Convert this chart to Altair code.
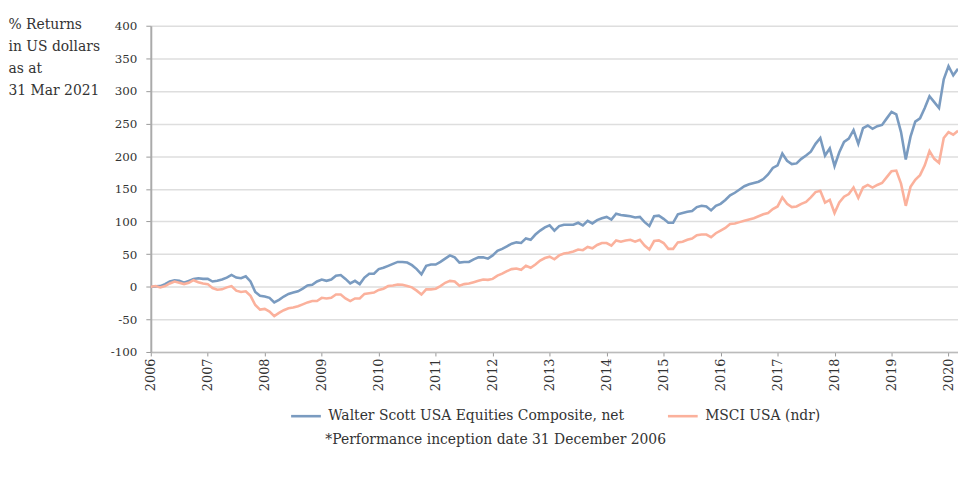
import altair as alt
import pandas as pd

months = list(range(171))

walter = [
    0, 0.5, 1, 4, 8, 10, 9, 6, 9, 12, 13, 12,
    12, 8, 9, 11, 14, 18, 14, 13, 16, 8, -8, -14,
    -15, -17, -24, -20, -15, -11, -9, -7, -3, 2, 3, 8,
    11, 9, 11, 17, 18, 12, 5, 9, 4, 14, 20, 20,
    27, 29, 32, 35, 38, 38, 37, 33, 27, 19, 32, 34,
    34, 38, 43, 48, 45, 37, 38, 38, 42, 45, 45, 43,
    48, 55, 58, 62, 66, 68, 67, 74, 72, 80, 86, 91,
    94, 86, 93, 95, 95, 95, 98, 94, 101, 97, 102, 105,
    107, 103, 112, 110, 109, 108, 106, 107, 99, 93, 108, 109,
    104, 98, 98, 111, 113, 115, 116, 122, 124, 123, 117, 124,
    127, 133, 140, 144, 149, 154, 157, 159, 161, 165, 172, 182,
    186, 204, 193, 188, 189, 196, 201, 207, 219, 228, 201, 212,
    185, 206, 222, 227, 240, 219, 243, 247, 242, 246, 248, 258,
    268, 264, 237, 195, 230, 253, 258, 274, 292, 283, 274, 318,
    338, 324, 334,
]

msci = [
    0, 1, -1, 1, 5, 8, 6, 4, 6, 10, 7, 5,
    4, -2, -4.5, -4, -1, 1, -6, -8, -7, -14, -28, -35,
    -34, -38, -45, -40, -36, -33, -32, -30, -27, -24, -22, -22,
    -17, -18, -17, -12, -12, -18, -22, -18, -18, -11, -10, -9,
    -5, -3, 1, 2, 3.5, 3, 1, -1, -6, -12, -4, -4,
    -3, 1, 6, 9, 8, 1.5, 4, 5, 7, 9, 11, 10.5,
    12, 17, 20, 24, 27, 28, 26, 32, 29, 34, 40, 44,
    46, 42, 48, 51, 52, 54, 57, 56, 61, 59, 64, 67,
    67, 63, 71, 69, 71, 72, 69, 72, 63, 57, 70, 71,
    67, 58, 58, 68, 69, 72, 74, 79, 80, 80, 76, 82,
    86, 90, 96, 97, 99, 101, 103, 105, 108, 111, 113, 119,
    123, 137, 127, 122, 123, 127, 130, 137, 145, 147, 129, 133,
    113, 129, 138, 142, 152, 136, 152, 156, 152, 156, 159, 168,
    177, 178, 158, 124, 153, 164, 171, 186, 208, 196, 190, 228,
    237, 233, 239,
]

series_names = ["Walter Scott USA Equities Composite, net", "MSCI USA (ndr)"]
colors = ["#7A9BC0", "#FBB19C"]
years = list(range(2006, 2021))
y_ticks = list(range(-100, 401, 50))
title_lines = ["% Returns", "in US dollars", "as at", "31 Mar 2021"]
footnote = ["*Performance inception date 31 December 2006"]

df = pd.DataFrame({
    "m": months * 2,
    "v": walter + msci,
    "s": [series_names[0]] * len(walter) + [series_names[1]] * len(msci),
})
foot_df = pd.DataFrame({"t": footnote})

FONT = "DejaVu Serif"
TXT = "#333333"

lines = alt.Chart(df).mark_line(strokeWidth=2.6).encode(
    x=alt.X(
        "m:Q",
        scale=alt.Scale(domain=[0, 170], nice=False, zero=False),
        axis=alt.Axis(
            values=[(y - 2006) * 12 for y in years],
            labelExpr="'' + (2006 + datum.value / 12)",
            labelAngle=270,
            grid=False,
            title=None,
            labelFont=FONT,
            labelFontSize=13,
            labelColor=TXT,
            labelPadding=2,
            tickSize=4,
            tickColor="#999999",
            domainColor="#bbbbbb",
            domainWidth=1.5,
        ),
    ),
    y=alt.Y(
        "v:Q",
        scale=alt.Scale(domain=[-100, 400], nice=False),
        axis=alt.Axis(
            values=y_ticks,
            labelExpr="'' + datum.value",
            title=title_lines,
            titleAngle=0,
            titleAlign="left",
            titleBaseline="alphabetic",
            titleX=-144,
            titleY=3,
            titleFont=FONT,
            titleFontSize=14,
            titleFontWeight="normal",
            titleColor=TXT,
            titleLineHeight=22,
            labelFont=FONT,
            labelFontSize=12,
            labelColor=TXT,
            labelPadding=9,
            tickSize=5,
            tickColor="#999999",
            domainColor="#aaaaaa",
            domainWidth=2,
            gridColor="#dedede",
            gridWidth=1.5,
        ),
    ),
    color=alt.Color(
        "s:N",
        scale=alt.Scale(domain=series_names, range=colors),
        legend=alt.Legend(
            orient="none",
            legendX=140,
            legendY=377,
            direction="horizontal",
            title=None,
            symbolType="stroke",
            symbolSize=900,
            symbolStrokeWidth=2.6,
            labelFont=FONT,
            labelFontSize=14,
            labelColor=TXT,
            labelOffset=6,
            labelLimit=500,
            columnPadding=38,
            padding=0,
        ),
    ),
)

foot = alt.Chart(foot_df).mark_text(
    align="left", baseline="alphabetic", font=FONT, fontSize=14, color=TXT
).encode(x=alt.value(176), y=alt.value(422), text="t:N")

chart = alt.layer(lines, foot).properties(
    width=814,
    height=329,
    autosize=alt.AutoSizeParams(type="none"),
    padding={"left": 144, "top": 16, "right": 0, "bottom": 100},
).configure_view(stroke=None)

chart.save("out.html", embed_options={"renderer": "svg", "actions": False})
